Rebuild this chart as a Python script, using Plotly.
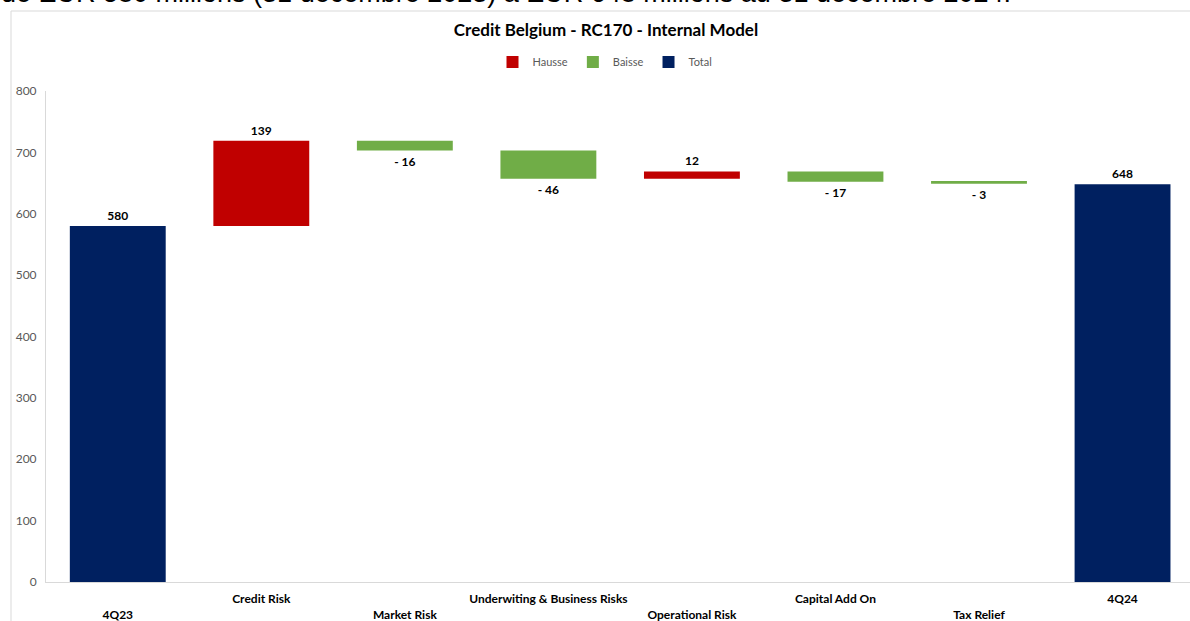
import plotly.graph_objects as go

categories = ["4Q23", "Credit Risk", "Market Risk", "Underwiting & Business Risks",
              "Operational Risk", "Capital Add On", "Tax Relief", "4Q24"]
values = [580, 139, -16, -46, 12, -17, -3, 648]
kinds = ["total", "delta", "delta", "delta", "delta", "delta", "delta", "total"]
yticks = [0, 100, 200, 300, 400, 500, 600, 700, 800]

title_text = "Credit Belgium - RC170 - Internal Model"
header_text = "de EUR 580 millions (31 décembre 2023) à EUR 648 millions au 31 décembre 2024."

RED, GREEN, NAVY = "#C00000", "#70AD47", "#002060"
FONT = "Lato"

W, H = 1190, 621
L, T, B = 46, 91, 39
PW, PH = W - L, H - T - B

# compute bases for the floating bars
bases, running = [], 0
for v, k in zip(values, kinds):
    if k == "total":
        bases.append(0)
        running = v
    else:
        bases.append(running)
        running += v

def fmt(v):
    return f"- {abs(v)}" if v < 0 else f"{v}"

groups = [("Hausse", RED, lambda v, k: k == "delta" and v > 0),
          ("Baisse", GREEN, lambda v, k: k == "delta" and v < 0),
          ("Total", NAVY, lambda v, k: k == "total")]

fig = go.Figure()
for name, color, cond in groups:
    idx = [i for i, (v, k) in enumerate(zip(values, kinds)) if cond(v, k)]
    fig.add_trace(go.Bar(
        name=name,
        x=idx,
        y=[values[i] for i in idx],
        base=[bases[i] for i in idx],
        marker=dict(color=color, line=dict(width=0)),
        width=0.668,
        text=[fmt(values[i]) for i in idx],
        textposition="outside",
        textfont=dict(family=FONT, size=12, color="#000000", weight="bold"),
        constraintext="none",
        cliponaxis=False,
        hoverinfo="skip",
    ))

ticktext = [("<br>" + c) if i % 2 == 0 and i != len(categories) - 1 else c
            for i, c in enumerate(categories)]

fig.update_layout(
    width=W, height=H,
    margin=dict(l=L, r=0, t=T, b=B, pad=0),
    paper_bgcolor="white", plot_bgcolor="white",
    font=dict(family=FONT),
    barmode="overlay",
    showlegend=True,
    title=dict(text="<b>" + title_text + "</b>", x=606 / W, xanchor="center",
               y=1 - 30 / H, yanchor="middle",
               font=dict(family=FONT, size=17, color="#000000")),
    legend=dict(orientation="h", x=(605 - L) / PW, xanchor="center",
                y=(T + PH - 62) / PH, yanchor="middle",
                font=dict(family=FONT, size=11, color="#595959"),
                itemwidth=30, traceorder="normal", bgcolor="rgba(0,0,0,0)"),
    xaxis=dict(range=[-0.5, 7.47], tickmode="array", tickvals=list(range(len(categories))),
               ticktext=ticktext, showgrid=False, zeroline=False, showline=True,
               linecolor="#D9D9D9", linewidth=1, ticks="",
               tickfont=dict(family=FONT, size=12, color="#000000", weight="bold"),
               ticklabelstandoff=6),
    yaxis=dict(range=[0, 800], tickmode="array", tickvals=yticks, showgrid=False,
               zeroline=False, showline=True, linecolor="#D9D9D9", linewidth=1, ticks="",
               tickfont=dict(family=FONT, size=12, color="#595959"),
               ticklabelstandoff=6),
)

# outer chart frame (partially cut off by the screenshot)
fig.add_shape(type="rect", xref="paper", yref="paper",
              x0=(11 - L) / PW, x1=1.05, y0=-0.2, y1=(T + PH - 11) / PH,
              line=dict(color="#D9D9D9", width=1), fillcolor="rgba(0,0,0,0)", layer="below")

# header sentence from the surrounding document, cut off at the top
fig.add_annotation(text=header_text, xref="paper", yref="paper",
                   x=(-1 - L) / PW, xanchor="left", y=(T + PH + 7.0) / PH, yanchor="middle",
                   showarrow=False,
                   font=dict(family="Liberation Sans", size=27, color="#000000"))

fig.write_html("out.html", config={"displayModeBar": False},
               post_script="document.body.style.margin='0';document.body.style.overflow='hidden';")
